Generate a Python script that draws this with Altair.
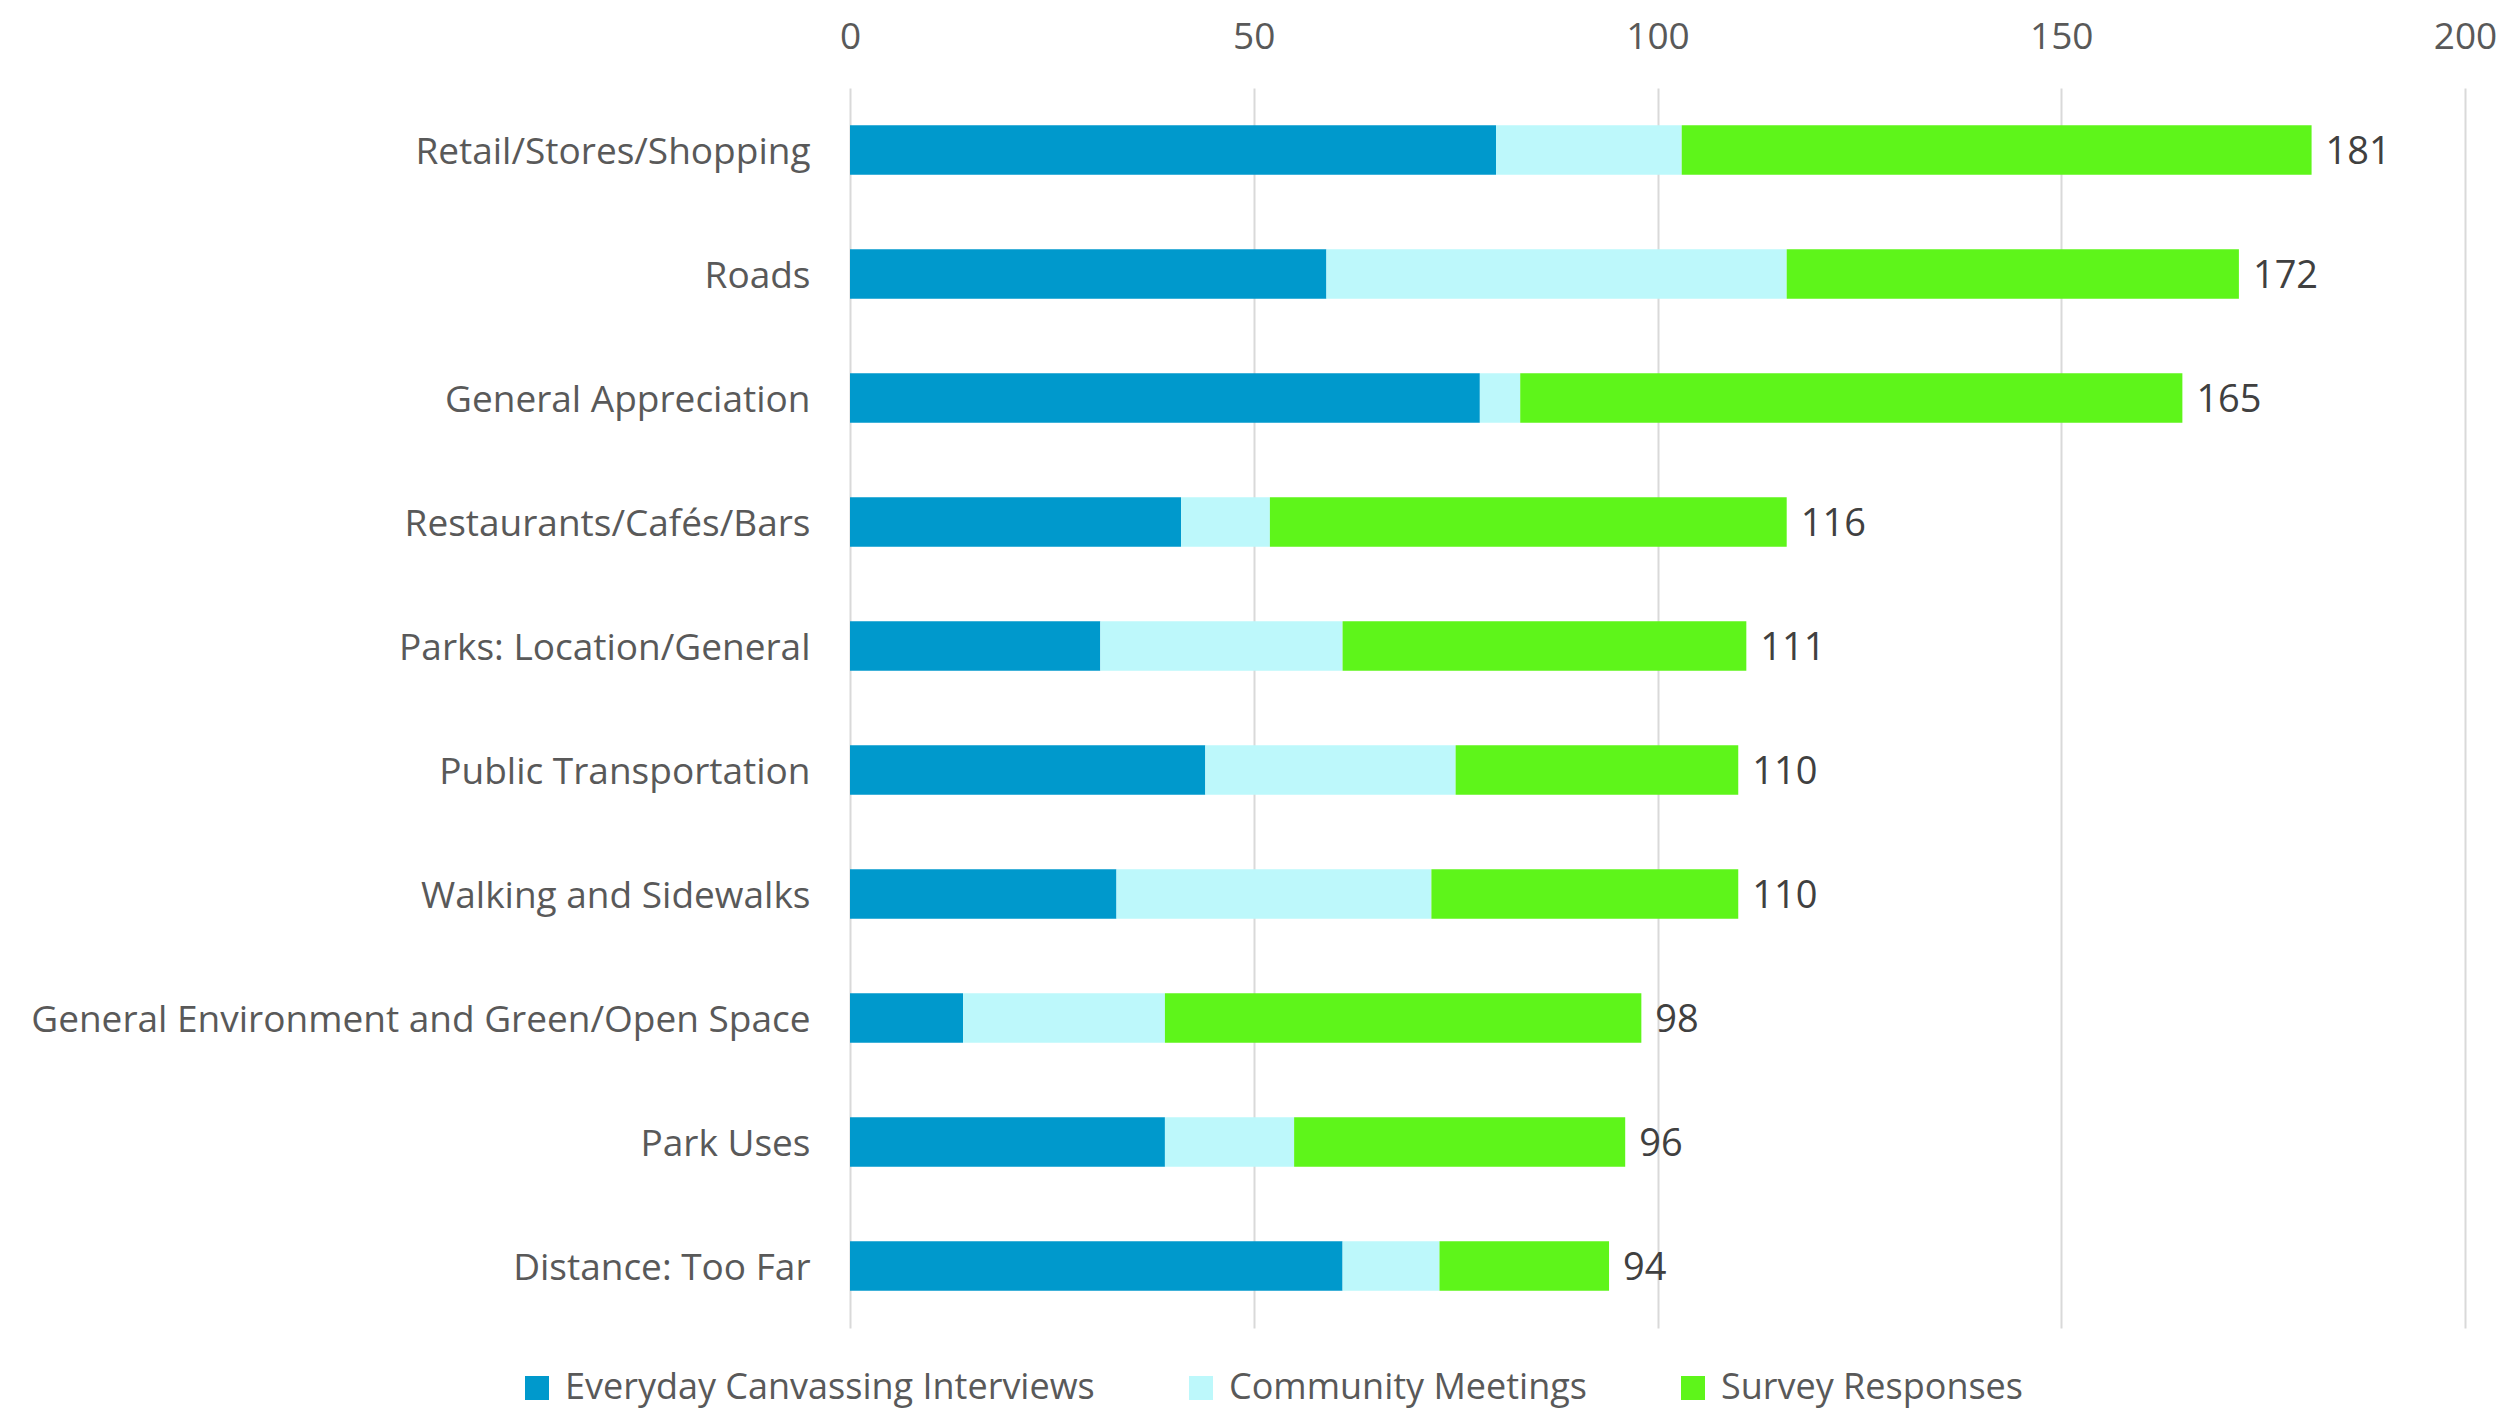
import altair as alt
import pandas as pd

categories = [
    "Retail/Stores/Shopping",
    "Roads",
    "General Appreciation",
    "Restaurants/Cafés/Bars",
    "Parks: Location/General",
    "Public Transportation",
    "Walking and Sidewalks",
    "General Environment and Green/Open Space",
    "Park Uses",
    "Distance: Too Far",
]
series = ["Everyday Canvassing Interviews", "Community Meetings", "Survey Responses"]
everyday = [80, 59, 78, 41, 31, 44, 33, 14, 39, 61]
community = [23, 57, 5, 11, 30, 31, 39, 25, 16, 12]
survey = [78, 56, 82, 64, 50, 35, 38, 59, 41, 21]
totals = [181, 172, 165, 116, 111, 110, 110, 98, 96, 94]
colors = ["#0099CC", "#BDF8FB", "#5EF51A"]
x_ticks = [0, 50, 100, 150, 200]

rows = []
for i, c in enumerate(categories):
    for j, (s, vals) in enumerate(zip(series, [everyday, community, survey])):
        rows.append({"category": c, "series": s, "order": j, "value": vals[i]})
df = pd.DataFrame(rows)
tot_df = pd.DataFrame({"category": categories, "total": totals})

FONT = "Open Sans"
TXT = "#595959"

y_enc = alt.Y(
    "category:N",
    sort=categories,
    title=None,
    scale=alt.Scale(paddingInner=0.6, paddingOuter=0.3),
    axis=alt.Axis(domain=False, ticks=False, tickSize=0, labelPadding=40, labelOffset=3,
                  labelFontSize=37, labelColor=TXT, labelFont=FONT, grid=False,
                  labelLimit=1000),
)

bars = alt.Chart(df).mark_bar().encode(
    x=alt.X(
        "sum(value):Q",
        stack="zero",
        title=None,
        scale=alt.Scale(domain=[0, 200], nice=False),
        axis=alt.Axis(orient="top", values=x_ticks, domain=False, ticks=False, tickSize=0,
                      labelPadding=32, labelFontSize=37, labelColor=TXT, labelFont=FONT,
                      labelFlush=False,
                      grid=True, gridColor="#D9D9D9", gridWidth=2),
    ),
    y=y_enc,
    color=alt.Color(
        "series:N",
        sort=series,
        scale=alt.Scale(domain=series, range=colors),
        legend=alt.Legend(
            title=None, orient="none", direction="horizontal",
            legendX=-331, legendY=1282,
            symbolType="square", symbolSize=576, symbolStrokeWidth=0,
            labelFontSize=36, labelColor=TXT, labelFont=FONT,
            labelOffset=10, columnPadding=88, labelLimit=1000,
        ),
    ),
    order=alt.Order("order:Q", sort="ascending"),
)

labels = alt.Chart(tot_df).mark_text(
    align="left", baseline="middle", dx=14, dy=3, fontSize=38, font=FONT, color="#404040"
).encode(
    x=alt.X("total:Q"),
    y=alt.Y("category:N", sort=categories),
    text=alt.Text("total:Q"),
)

chart = (
    alt.layer(bars, labels)
    .properties(
        width=1615,
        height=1240,
        autosize=alt.AutoSizeParams(type="none"),
        padding={"left": 842, "top": 80, "right": 40, "bottom": 82},
        background="white",
    )
    .configure_view(stroke=None, strokeWidth=0)
)

chart.save("out.html", embed_options={"renderer": "svg", "actions": False})
